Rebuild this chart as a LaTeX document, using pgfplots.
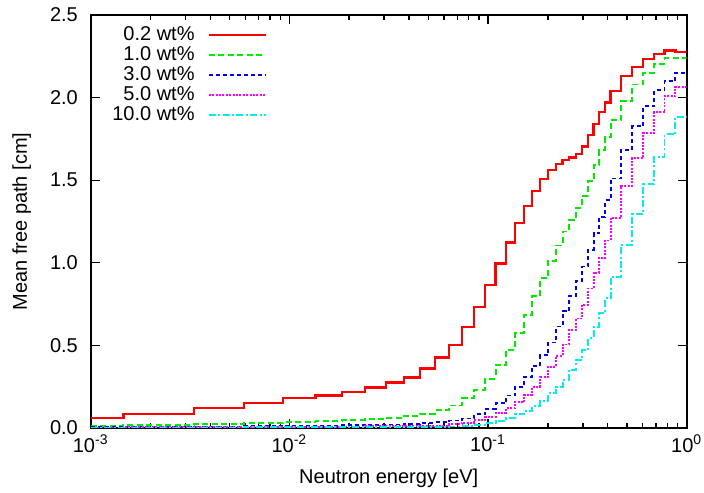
\documentclass[border=0pt]{standalone}
\usepackage{pgfplots}
\pgfplotsset{compat=1.18}
\usepackage{fontspec}
\setmainfont{Liberation Sans}
\definecolor{gred}{RGB}{255,0,0}
\definecolor{ggreen}{RGB}{0,235,0}
\definecolor{gblue}{RGB}{0,0,235}
\definecolor{gmag}{RGB}{255,0,255}
\definecolor{gcyan}{RGB}{0,238,238}
\begin{document}
\begin{tikzpicture}
\begin{axis}[name=ax,
  width=298pt, height=206.5pt, scale only axis,
  xmode=log, xmin=0.001, xmax=1, ymin=0, ymax=2.5,
  xtick={0.001,0.01,0.1,1},
  xticklabels={10\textsuperscript{-3},10\textsuperscript{-2},10\textsuperscript{-1},10\textsuperscript{0}},
  ytick={0,0.5,1,1.5,2,2.5},
  y tick label style={/pgf/number format/fixed, /pgf/number format/fixed zerofill, /pgf/number format/precision=1, xshift=-2.9pt},
  /pgf/number format/assume math mode=true,
  tick align=inside, major tick length=4.5pt, minor tick length=2.5pt,
  axis line style={line width=0.9pt},
  every tick/.append style={black, line width=0.7pt},
  tick label style={font=\fontsize{10}{12}\selectfont},
  label style={font=\fontsize{10}{12}\selectfont},
  xlabel={Neutron energy [eV]}, ylabel={Mean free path [cm]},
  every axis x label/.style={at={(axis description cs:0.5,-0.121)}, anchor=center},
  every axis y label/.style={at={(axis description cs:-0.1158,0.5)}, anchor=center, rotate=90},
  legend cell align=right, legend plot pos=right,
  legend style={at={(axis description cs:0.2958,0.973)}, anchor=north east, draw=none, fill=none,
    inner sep=0pt, outer sep=0pt, row sep=1pt,
    font=\fontsize{10}{12}\selectfont,
    nodes={inner sep=0pt, text height=7pt, text depth=2pt},
    /tikz/every odd column/.append style={column sep=6.5pt}},
  legend image code/.code={\draw[#1] (0pt,0pt) -- (28.5pt,0pt);},
]
\addplot[const plot, color=gred, line width=1.2pt] coordinates {
(0.001,0.060)(0.00146,0.085)(0.00331,0.12)(0.00591,0.15)(0.00929,0.18)(0.01353,0.196)(0.01839,0.217)(0.02401,0.245)(0.03063,0.275)(0.03773,0.306)(0.04544,0.36)(0.05404,0.427)(0.06378,0.503)(0.07387,0.612)(0.0852,0.731)(0.0965,0.864)(0.1092,0.996)(0.1231,1.123)(0.1366,1.240)(0.1521,1.344)(0.1669,1.433)(0.1829,1.507)(0.2007,1.562)(0.2197,1.597)(0.2374,1.623)(0.2553,1.638)(0.2769,1.659)(0.2976,1.703)(0.3194,1.772)(0.3401,1.839)(0.3623,1.913)(0.3884,1.970)(0.4140,2.041)(0.4666,2.129)(0.5299,2.184)(0.6041,2.233)(0.6853,2.263)(0.7740,2.284)(0.8772,2.275)(1.0,2.275)};
\addlegendentry{0.2 wt\%}
\addplot[const plot, color=ggreen, line width=0.9pt, dash pattern=on 3pt off 1.75pt] coordinates {
(0.001,0.010)(0.00146,0.018)(0.00331,0.025)(0.00591,0.032)(0.00929,0.038)(0.01353,0.043)(0.01839,0.048)(0.02401,0.053)(0.03063,0.062)(0.03773,0.075)(0.04544,0.087)(0.05404,0.107)(0.06378,0.136)(0.07387,0.180)(0.0852,0.232)(0.0965,0.299)(0.1092,0.383)(0.1231,0.472)(0.1366,0.573)(0.1521,0.684)(0.1669,0.797)(0.1829,0.908)(0.2007,1.010)(0.2197,1.105)(0.2374,1.190)(0.2553,1.258)(0.2769,1.333)(0.2976,1.405)(0.3194,1.494)(0.3401,1.591)(0.3623,1.682)(0.3884,1.762)(0.4140,1.863)(0.4666,1.978)(0.5299,2.079)(0.6041,2.150)(0.6853,2.204)(0.7740,2.238)(0.8772,2.238)(1.0,2.238)};
\addlegendentry{1.0 wt\%}
\addplot[const plot, color=gblue, line width=0.9pt, dash pattern=on 2pt off 1.5pt] coordinates {
(0.001,0.004)(0.00146,0.006)(0.00331,0.008)(0.00591,0.010)(0.00929,0.012)(0.01353,0.014)(0.01839,0.016)(0.02401,0.018)(0.03063,0.021)(0.03773,0.025)(0.04544,0.030)(0.05404,0.034)(0.06378,0.045)(0.07387,0.058)(0.0852,0.083)(0.0965,0.115)(0.1092,0.149)(0.1231,0.197)(0.1366,0.25)(0.1521,0.308)(0.1669,0.375)(0.1829,0.440)(0.2007,0.518)(0.2197,0.615)(0.2374,0.707)(0.2553,0.80)(0.2769,0.890)(0.2976,0.978)(0.3194,1.077)(0.3401,1.178)(0.3623,1.278)(0.3884,1.379)(0.4140,1.51)(0.4666,1.682)(0.5299,1.827)(0.6041,1.948)(0.6853,2.045)(0.7740,2.099)(0.8772,2.149)(1.0,2.149)};
\addlegendentry{3.0 wt\%}
\addplot[const plot, color=gmag, line width=0.9pt, dash pattern=on 1pt off 0.7pt] coordinates {
(0.001,0.003)(0.00146,0.004)(0.00331,0.005)(0.00591,0.006)(0.00929,0.007)(0.01353,0.008)(0.01839,0.009)(0.02401,0.010)(0.03063,0.011)(0.03773,0.012)(0.04544,0.013)(0.05404,0.014)(0.06378,0.022)(0.07387,0.032)(0.0852,0.048)(0.0965,0.068)(0.1092,0.092)(0.1231,0.119)(0.1366,0.155)(0.1521,0.202)(0.1669,0.25)(0.1829,0.308)(0.2007,0.371)(0.2197,0.436)(0.2374,0.505)(0.2553,0.593)(0.2769,0.663)(0.2976,0.746)(0.3194,0.845)(0.3401,0.940)(0.3623,1.030)(0.3884,1.135)(0.4140,1.273)(0.4666,1.466)(0.5299,1.634)(0.6041,1.785)(0.6853,1.913)(0.7740,2.008)(0.8772,2.065)(1.0,2.065)};
\addlegendentry{5.0 wt\%}
\addplot[const plot, color=gcyan, line width=0.9pt, dash pattern=on 3.5pt off 1.2pt on 1pt off 1.2pt] coordinates {
(0.001,0.002)(0.00146,0.003)(0.00331,0.003)(0.00591,0.004)(0.00929,0.004)(0.01353,0.005)(0.01839,0.005)(0.02401,0.006)(0.03063,0.006)(0.03773,0.007)(0.04544,0.007)(0.05404,0.008)(0.06378,0.009)(0.07387,0.010)(0.0852,0.018)(0.0965,0.032)(0.1092,0.042)(0.1231,0.062)(0.1366,0.083)(0.1521,0.103)(0.1669,0.135)(0.1829,0.163)(0.2007,0.21)(0.2197,0.25)(0.2374,0.29)(0.2553,0.351)(0.2769,0.411)(0.2976,0.472)(0.3194,0.543)(0.3401,0.613)(0.3623,0.694)(0.3884,0.785)(0.4140,0.915)(0.4666,1.107)(0.5299,1.295)(0.6041,1.476)(0.6853,1.639)(0.7740,1.779)(0.8772,1.883)(1.0,1.883)};
\addlegendentry{10.0 wt\%}
\end{axis}
\pgfresetboundingbox
\path[use as bounding box] (ax.south west) ++(-45.35pt,-32.5pt) rectangle ([xshift=8.65pt,yshift=7.5pt]ax.north east);
\end{tikzpicture}
\end{document}
